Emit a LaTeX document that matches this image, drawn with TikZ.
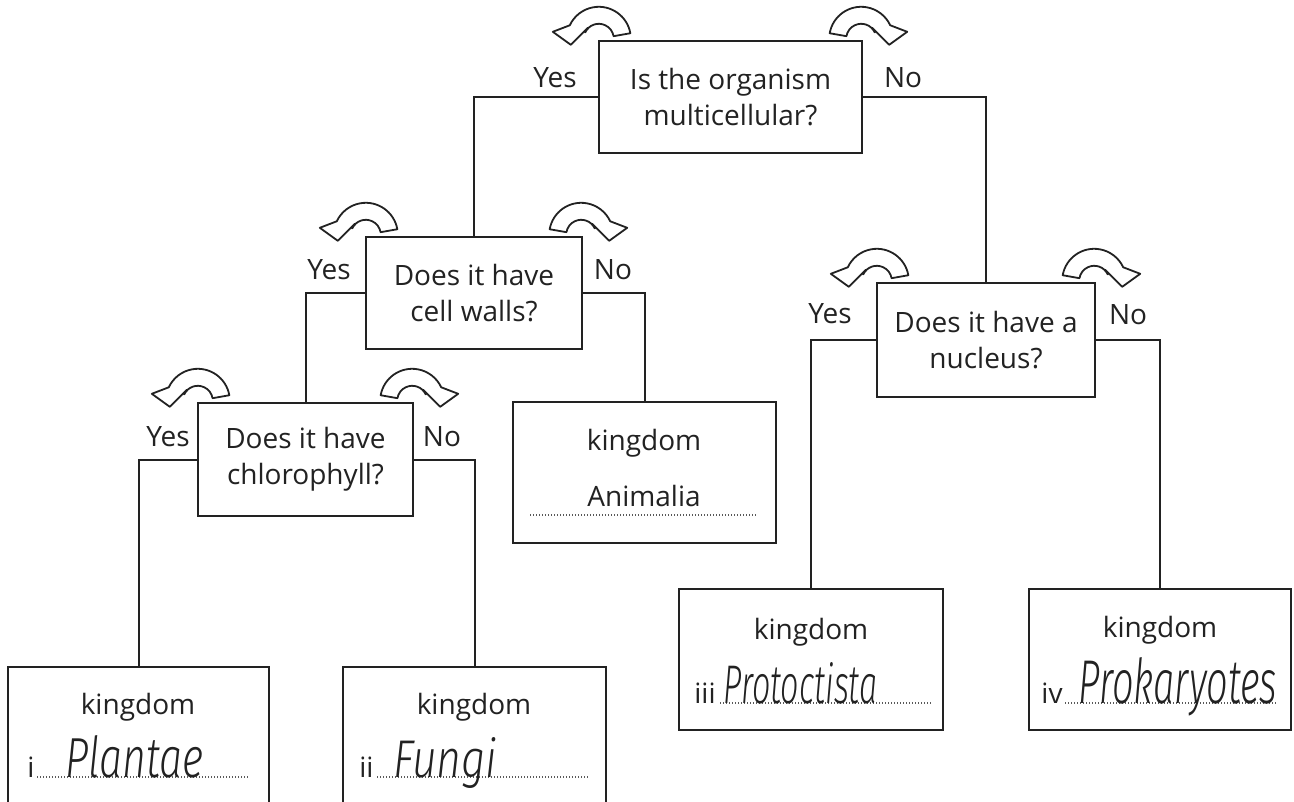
\documentclass[tikz,border=0pt]{standalone}
\usepackage{fontspec}
\usepackage{graphicx}
\setmainfont{Open Sans}
\newfontfamily\hand{Fira Sans Light Italic}
\usetikzlibrary{calc}
\definecolor{ink}{HTML}{222222}
\tikzset{
  qbox/.style={draw=ink, line width=1.2pt, fill=white, align=center, text=ink,
    font=\fontsize{14}{18}\selectfont, inner sep=0pt},
  kbox/.style={draw=ink, line width=1.2pt, fill=white, inner sep=0pt},
  lab/.style={text=ink, font=\fontsize{14}{18}\selectfont, inner sep=0pt},
  handtxt/.style={text=ink, inner sep=0pt, anchor=base west},
  conn/.style={draw=ink, line width=1pt},
  dotline/.style={draw=ink!75, line width=0.6pt, dash pattern=on 0.5pt off 1pt},
  curlstyle/.style={draw=ink, line width=0.9pt, fill=white, line join=round},
  curl/.pic={
    \draw[curlstyle, yscale=-1] (10:32) arc[start angle=10, end angle=155, radius=32]
      -- (-46,7) -- (-28,-6) -- (-11,11) -- (155:15)
      arc[start angle=155, end angle=10, radius=15] -- cycle;
  }
}
\begin{document}
\begin{tikzpicture}[x=0.5pt, y=-0.5pt]
\useasboundingbox (0,0) rectangle (1294,802);
\clip (0,0) rectangle (1294,802);

% question boxes
\node[qbox, minimum width=131.5pt, minimum height=56pt] (q1) at (730.5,97) {Is the organism\\multicellular?};
\node[qbox, minimum width=108pt, minimum height=56pt] (q2) at (474,293) {Does it have\\cell walls?};
\node[qbox, minimum width=107.5pt, minimum height=56.5pt] (q4) at (305.5,459.5) {Does it have\\chlorophyll?};
\node[qbox, minimum width=109pt, minimum height=57pt] (q3) at (986,340) {Does it have a\\nucleus?};

% kingdom boxes
\node[kbox, minimum width=131.5pt, minimum height=70.5pt] (ani) at (644.5,472.5) {};
\node[kbox, minimum width=130.5pt, minimum height=70.5pt] (bi) at (138.5,737.5) {};
\node[kbox, minimum width=131.5pt, minimum height=70.5pt] (bii) at (474.5,737.5) {};
\node[kbox, minimum width=132pt, minimum height=70.5pt] (biii) at (811,659.5) {};
\node[kbox, minimum width=131pt, minimum height=70.5pt] (biv) at (1160,659.5) {};

% connectors
\draw[conn] (q1.west) -| (q2.north);
\draw[conn] (q1.east) -| (q3.north);
\draw[conn] (q2.west) -| (q4.north);
\draw[conn] (q2.east) -| (ani.north);
\draw[conn] (q4.west) -| (bi.north);
\draw[conn] (q4.east) -| (bii.north);
\draw[conn] (q3.west) -| (biii.north);
\draw[conn] (q3.east) -| (biv.north);

% curled arrows
\pic at ($(q1.north west)+(1,-1)$) {curl};
\pic[xscale=-1] at ($(q1.north east)+(-2,-1)$) {curl};
\pic at ($(q2.north west)+(1,-1)$) {curl};
\pic[xscale=-1] at ($(q2.north east)+(-2,-1)$) {curl};
\pic at ($(q4.north west)+(1,-1)$) {curl};
\pic[xscale=-1] at ($(q4.north east)+(-2,-1)$) {curl};
\pic at ($(q3.north west)+(1,-1)$) {curl};
\pic[xscale=-1] at ($(q3.north east)+(-2,-1)$) {curl};

% Yes / No labels
\node[lab] (y1) at (555,78) {Yes};
\node[lab] (n1) at (903,78) {No};
\node[lab] (y2) at (329,270) {Yes};
\node[lab] (n2) at (613,270) {No};
\node[lab] (y4) at (168,437) {Yes};
\node[lab] (n4) at (442,437) {No};
\node[lab] (y3) at (830,314) {Yes};
\node[lab] (n3) at (1128,315) {No};

% kingdom texts
\node[lab] (kani) at (644,443) {kingdom};
\node[lab] (kani2) at (644,496) {Animalia};
\node[lab] (ki) at (138,707) {kingdom};
\node[lab] (kii) at (474,707) {kingdom};
\node[lab] (kiii) at (811,632) {kingdom};
\node[lab] (kiv) at (1160,630) {kingdom};

% roman numerals
\node[lab, anchor=base west] (ri) at (27,777) {i};
\node[lab, anchor=base west] (rii) at (359,777) {ii};
\node[lab, anchor=base west] (riii) at (694,703) {iii};
\node[lab, anchor=base west] (riv) at (1041,703) {iv};

% dotted answer lines
\draw[dotline] (530,515) -- (758,515);
\draw[dotline] (37,777) -- (248,777);
\draw[dotline] (377,777) -- (590,777);
\draw[dotline] (720,703) -- (933,703);
\draw[dotline] (1065,703) -- (1278,703);

% handwritten answers
\node[handtxt] (hi) at (65,777) {\resizebox{69pt}{21pt}{\hand Plantae}};
\node[handtxt] (hii) at (393,777) {\resizebox{52pt}{20pt}{\hand Fungi}};
\node[handtxt] (hiii) at (723,703) {\resizebox{77pt}{20.5pt}{\hand Protoctista}};
\node[handtxt] (hiv) at (1078,703) {\resizebox{99.5pt}{23pt}{\hand Prokaryotes}};
\end{tikzpicture}
\end{document}
